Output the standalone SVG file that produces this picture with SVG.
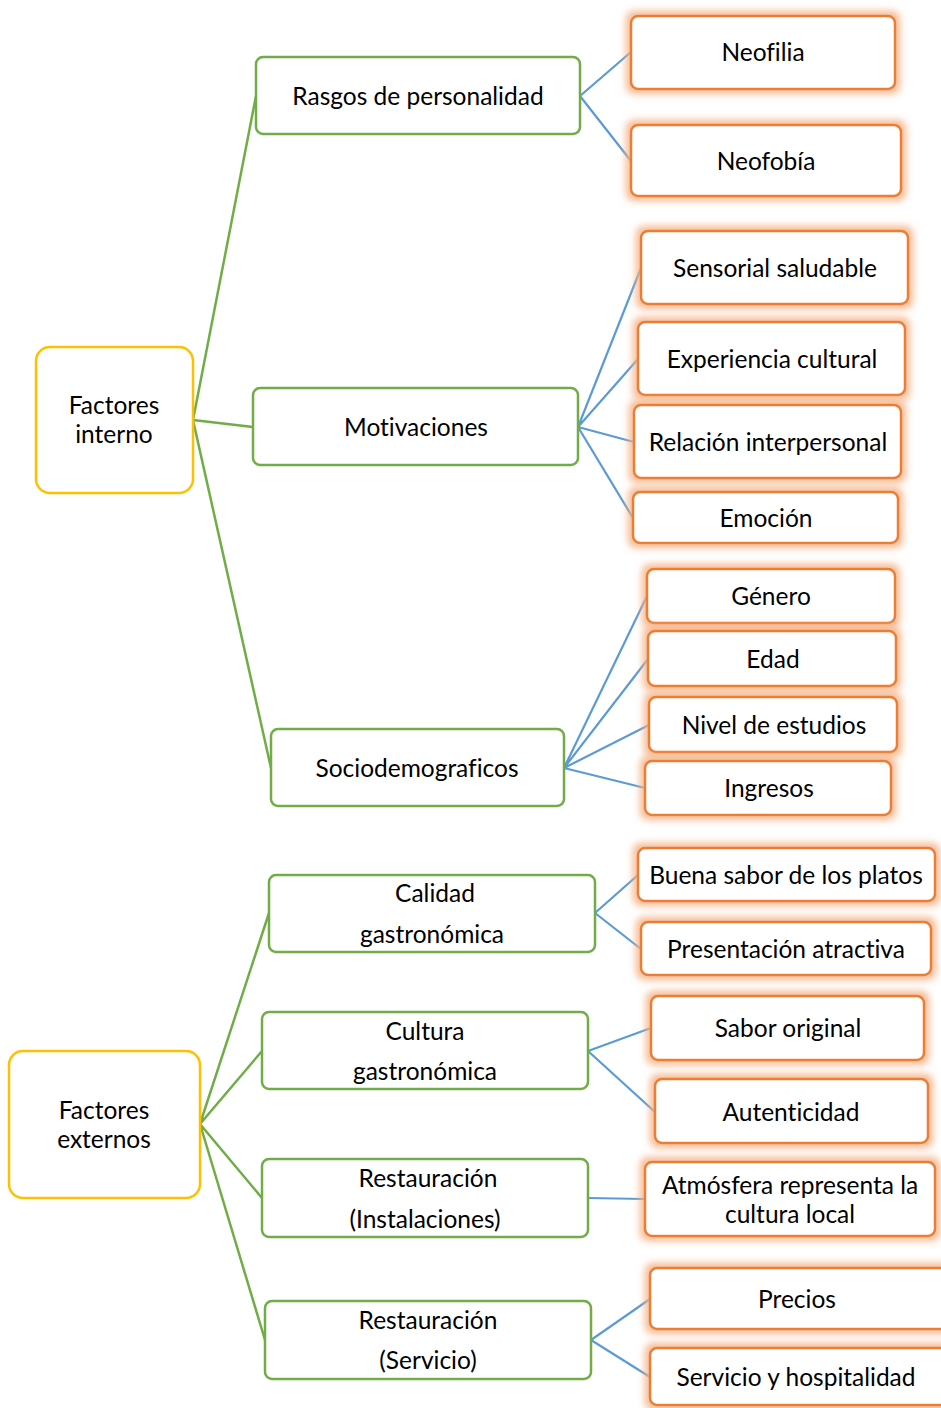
<svg xmlns="http://www.w3.org/2000/svg" width="941" height="1408" viewBox="0 0 941 1408">
<defs>
<filter id="glow" x="-20%" y="-40%" width="140%" height="180%">
<feMorphology in="SourceAlpha" operator="dilate" radius="4" result="d"/>
<feGaussianBlur in="d" stdDeviation="3.5" result="b"/>
<feFlood flood-color="#F4B183" flood-opacity="0.85"/>
<feComposite in2="b" operator="in" result="g"/>
<feMerge><feMergeNode in="g"/><feMergeNode in="SourceGraphic"/></feMerge>
</filter>
</defs>
<style>
text{font-family:Lato,"Open Sans","Liberation Sans",sans-serif;font-size:24.5px;fill:#000;text-anchor:middle;dominant-baseline:central;font-variant-ligatures:none;font-feature-settings:"liga" 0}
.o{fill:#fff;stroke:#ED7D31;stroke-width:2.5;filter:url(#glow)}
.g{fill:#fff;stroke:#70AD47;stroke-width:2.5}
.y{fill:#fff;stroke:#FFC000;stroke-width:2.5}
.cg{stroke:#70AD47;stroke-width:2.5;fill:none}
.cb{stroke:#5B9BD5;stroke-width:2.2;fill:none}
</style>
<g id="connectors">
<path class="cg" d="M193 420L256 96M193 420L253 427M193 420L271 768"/>
<path class="cg" d="M200 1124L269 913M200 1124L262 1051M200 1124L262 1198M200 1124L265 1340"/>
<path class="cb" d="M580 96L631 52M580 96L631 161"/>
<path class="cb" d="M578 427L641 268M578 427L638 359M578 427L634 442M578 427L633 518"/>
<path class="cb" d="M564 768L647 596M564 768L648 659M564 768L649 725M564 768L645 788"/>
<path class="cb" d="M595 913L638 875M595 913L641 949"/>
<path class="cb" d="M588 1051L651 1028M588 1051L655 1112"/>
<path class="cb" d="M588 1198L645 1199"/>
<path class="cb" d="M591 1340L650 1299M591 1340L650 1377"/>
</g>
<g id="factores-interno"><rect class="y" x="36" y="347" width="157" height="146" rx="14"/><text x="114" y="404">Factores</text><text x="114" y="433">interno</text></g>
<g id="factores-externos"><rect class="y" x="9" y="1051" width="191" height="147" rx="14"/><text x="104" y="1109">Factores</text><text x="104" y="1138">externos</text></g>
<g id="rasgos"><rect class="g" x="256" y="57" width="324" height="77" rx="7"/><text x="418" y="95">Rasgos de personalidad</text></g>
<g id="motivaciones"><rect class="g" x="253" y="388" width="325" height="77" rx="7"/><text x="416" y="426">Motivaciones</text></g>
<g id="sociodemograficos"><rect class="g" x="271" y="729" width="293" height="77" rx="7"/><text x="417" y="767">Sociodemograficos</text></g>
<g id="calidad"><rect class="g" x="269" y="875" width="326" height="77" rx="7"/><text x="435" y="892">Calidad</text><text x="432" y="933">gastronómica</text></g>
<g id="cultura"><rect class="g" x="262" y="1012" width="326" height="77" rx="7"/><text x="425" y="1030">Cultura</text><text x="425" y="1070">gastronómica</text></g>
<g id="rest-inst"><rect class="g" x="262" y="1159" width="326" height="78" rx="7"/><text x="428" y="1177">Restauración</text><text x="425" y="1218">(Instalaciones)</text></g>
<g id="rest-serv"><rect class="g" x="265" y="1301" width="326" height="78" rx="7"/><text x="428" y="1319">Restauración</text><text x="428" y="1359">(Servicio)</text></g>
<g id="neofilia"><rect class="o" x="631" y="16" width="264" height="73" rx="7"/><text x="763" y="51">Neofilia</text></g>
<g id="neofobia"><rect class="o" x="631" y="125" width="270" height="71" rx="7"/><text x="766" y="160">Neofobía</text></g>
<g id="sensorial"><rect class="o" x="641" y="231" width="267" height="73" rx="7"/><text x="775" y="267">Sensorial saludable</text></g>
<g id="experiencia"><rect class="o" x="638" y="322" width="267" height="73" rx="7"/><text x="772" y="358">Experiencia cultural</text></g>
<g id="relacion"><rect class="o" x="634" y="405" width="267" height="73" rx="7"/><text x="768" y="441">Relación interpersonal</text></g>
<g id="emocion"><rect class="o" x="633" y="492" width="265" height="51" rx="7"/><text x="766" y="517">Emoción</text></g>
<g id="genero"><rect class="o" x="647" y="569" width="248" height="54" rx="7"/><text x="771" y="595">Género</text></g>
<g id="edad"><rect class="o" x="648" y="631" width="248" height="55" rx="7"/><text x="773" y="658">Edad</text></g>
<g id="nivel"><rect class="o" x="649" y="697" width="248" height="55" rx="7"/><text x="774" y="724">Nivel de estudios</text></g>
<g id="ingresos"><rect class="o" x="645" y="761" width="246" height="54" rx="7"/><text x="769" y="787">Ingresos</text></g>
<g id="buena"><rect class="o" x="638" y="848" width="297" height="53" rx="7"/><text x="786" y="874">Buena sabor de los platos</text></g>
<g id="presentacion"><rect class="o" x="641" y="922" width="290" height="53" rx="7"/><text x="786" y="948">Presentación atractiva</text></g>
<g id="sabor"><rect class="o" x="651" y="996" width="273" height="64" rx="7"/><text x="788" y="1027">Sabor original</text></g>
<g id="autenticidad"><rect class="o" x="655" y="1079" width="273" height="64" rx="7"/><text x="791" y="1111">Autenticidad</text></g>
<g id="atmosfera"><rect class="o" x="645" y="1162" width="290" height="74" rx="7"/><text x="790" y="1184">Atmósfera representa la</text><text x="790" y="1213">cultura local</text></g>
<g id="precios"><rect class="o" x="650" y="1268" width="300" height="61" rx="7"/><text x="797" y="1298">Precios</text></g>
<g id="servicio"><rect class="o" x="650" y="1348" width="300" height="57" rx="7"/><text x="796" y="1376">Servicio y hospitalidad</text></g>
</svg>
